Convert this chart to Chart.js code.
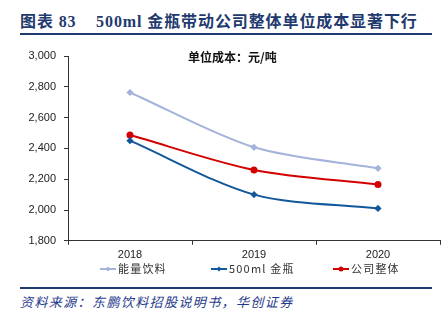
<!DOCTYPE html>
<html>
<head>
<meta charset="utf-8">
<script src="https://cdn.jsdelivr.net/npm/chart.js@4"></script>
<style>
  body { margin: 0; background: #fff; }
  #wrap { position: relative; width: 446px; height: 322px; overflow: hidden; }
  .titulo { position: absolute; left: 20px; top: 8px; font: bold 16px "Liberation Serif", "Noto Sans CJK SC"; color: #1f3a6e; letter-spacing: 0.9px; white-space: nowrap; }
  .titulo .cjk { font-family: "Noto Sans CJK SC"; }
  .linea { position: absolute; left: 20px; width: 412px; height: 2px; background: #1f3a6e; }
  .fuente { position: absolute; left: 20px; top: 292px; font: italic 13px "Noto Sans CJK SC"; color: #1f3a8a; letter-spacing: 1.4px; white-space: nowrap; }
  #grafica-box { position: absolute; left: 0; top: 0; width: 446px; height: 285px; }
</style>
</head>
<body>
<div id="wrap">
  <div class="titulo"><span class="cjk">图表</span> 83&nbsp;&nbsp;&nbsp; 500ml <span class="cjk">金瓶带动公司整体单位成本显著下行</span></div>
  <div class="linea" style="top:33px"></div>
  <div id="grafica-box"><canvas id="costos-grafica"></canvas></div>
  <div class="linea" style="top:287px"></div>
  <div class="fuente">资料来源：东鹏饮料招股说明书，华创证券</div>
</div>
<script>
const anios = ['2018', '2019', '2020'];
const energia = [2763, 2407, 2271];
const botella500 = [2450, 2100, 2010];
const empresa = [2487, 2260, 2165];
const ticksY = [1800, 2000, 2200, 2400, 2600, 2800, 3000];

(function(){
    const series = [
        { label: '能量饮料', data: energia, color: '#a4b3da', punto: 'rectRot' },
        { label: '500ml 金瓶', data: botella500, color: '#12589a', punto: 'rectRot' },
        { label: '公司整体', data: empresa, color: '#d40000', punto: 'circle' }
    ];
    // x de inicio de cada muestra de la leyenda
    const leyendaX = [100, 211, 333];

    const extras = {
        id: 'extras',
        afterDraw(chart) {
            const ctx = chart.ctx;
            ctx.save();
            ctx.font = 'bold 12px "Noto Sans CJK SC"';
            ctx.fillStyle = '#111';
            ctx.textBaseline = 'middle';
            ctx.fillText('单位成本：元/吨', 188, 57);

            // leyenda
            const y = 269;
            chart.data.datasets.forEach((d, i) => {
                const x = leyendaX[i];
                ctx.strokeStyle = d.borderColor;
                ctx.fillStyle = d.borderColor;
                ctx.lineWidth = 2;
                ctx.beginPath(); ctx.moveTo(x, y); ctx.lineTo(x + 16, y); ctx.stroke();
                ctx.beginPath();
                if (d.pointStyle === 'circle') { ctx.arc(x + 8, y, 2.5, 0, Math.PI * 2); }
                else { ctx.moveTo(x + 8, y - 2.5); ctx.lineTo(x + 10.5, y); ctx.lineTo(x + 8, y + 2.5); ctx.lineTo(x + 5.5, y); ctx.closePath(); }
                ctx.fill();
                ctx.fillStyle = '#333';
                ctx.font = '11px "Noto Sans CJK SC"';
                ctx.letterSpacing = '1.2px';
                ctx.fillText(d.label, x + 18, y);
                ctx.letterSpacing = '0px';
            });
            ctx.restore();
        }
    };

    const ctx = document.getElementById('costos-grafica');
    new Chart(ctx, {
        type: 'line',
        data: {
            labels: anios,
            datasets: series.map(s => ({
                label: s.label,
                data: s.data,
                borderColor: s.color,
                backgroundColor: s.color,
                borderWidth: 2,
                pointStyle: s.punto,
                pointRadius: s.punto === 'circle' ? 2.5 : 2.2,
                tension: 0.3
            }))
        },
        options: {
            responsive: true,
            maintainAspectRatio: false,
            animation: false,
            layout: { padding: { top: 56, right: 4, left: 0, bottom: 19 } },
            scales: {
                y: {
                    min: 1800, max: 3000,
                    afterFit: s => { s.width = 68; },
                    afterBuildTicks: s => { s.ticks = ticksY.map(v => ({ value: v })); },
                    border: { color: '#333', width: 1 },
                    grid: { drawOnChartArea: false, drawTicks: true, tickLength: 4, color: '#333' },
                    ticks: {
                        color: '#222', padding: 8,
                        font: { family: 'Liberation Sans', size: 11 },
                        callback: v => v.toLocaleString('en-US')
                    }
                },
                x: {
                    offset: true,
                    border: { color: '#333', width: 1 },
                    grid: { offset: true, drawOnChartArea: false, drawTicks: true, tickLength: 4, color: '#333' },
                    ticks: { color: '#222', padding: 4, font: { family: 'Liberation Sans', size: 11 } }
                }
            },
            plugins: {
                legend: { display: false },
                tooltip: { enabled: false }
            }
        },
        plugins: [extras]
    });
})();
</script>
</body>
</html>
